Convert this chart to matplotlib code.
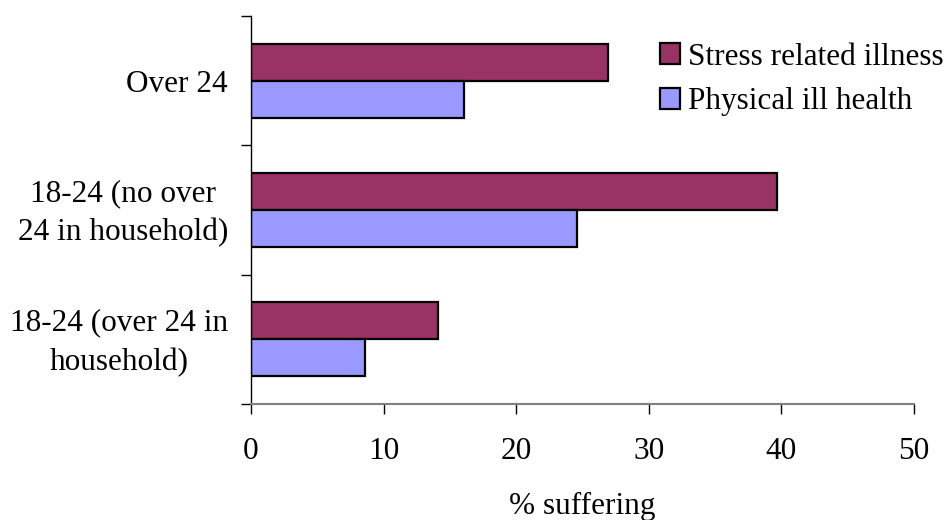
import matplotlib.pyplot as plt
import matplotlib.transforms as mtransforms
import numpy as np

# données
categories = ["18-24 (over 24 in\nhousehold)", "18-24 (no over\n24 in household)", "Over 24"]
stress = [14.1, 39.7, 26.9]
physique = [8.6, 24.6, 16.1]
noms = ["Stress related illness", "Physical ill health"]
xticks = [0, 10, 20, 30, 40, 50]

plt.rcParams['font.family'] = ['Liberation Serif', 'DejaVu Serif']
taille = 22.5

fig = plt.figure(figsize=(9.45, 5.2), dpi=100)
ax = fig.add_axes([0.2656, 0.2231, 0.9672 - 0.2656, 0.9692 - 0.2231])

y = np.arange(len(categories))
h = 0.285
ax.barh(y + h / 2, stress, height=h, color="#993366", edgecolor="black", linewidth=1.6, label=noms[0])
ax.barh(y - h / 2, physique, height=h, color="#9999FF", edgecolor="black", linewidth=1.6, label=noms[1])

ax.set_xlim(0, 50)
ax.set_ylim(-0.5, len(categories) - 0.5)
ax.set_xticks(xticks)
ax.set_xticklabels([str(v) for v in xticks], fontsize=taille)

# traits aux limites des catégories, étiquettes au centre
ax.set_yticks(np.arange(len(categories) + 1) - 0.5)
ax.set_yticklabels([])
ax.set_yticks(y, minor=True)
ax.set_yticklabels(categories, minor=True, fontsize=taille, multialignment="center", linespacing=1.45)
ax.tick_params(axis="y", which="minor", length=0, pad=16.5)
ax.tick_params(axis="y", which="major", length=7, width=1, direction="out")
ax.tick_params(axis="x", length=7, width=1, direction="out", pad=16.5)

# petit décalage vers le haut des étiquettes sur deux lignes
decalage = mtransforms.ScaledTranslation(0, 0.05, fig.dpi_scale_trans)
for lab in ax.get_yticklabels(minor=True):
    if "\n" in lab.get_text():
        lab.set_transform(lab.get_transform() + decalage)

ax.spines["top"].set_visible(False)
ax.spines["right"].set_visible(False)
ax.spines["bottom"].set_color("#808080")
ax.spines["bottom"].set_linewidth(1.5)
ax.spines["left"].set_color("black")
ax.spines["left"].set_linewidth(1)

ax.set_xlabel("% suffering", fontsize=taille, labelpad=19)

ax.legend(loc="upper left", bbox_to_anchor=(0.698, 0.918), bbox_transform=fig.transFigure,
          frameon=False, fontsize=taille, handlelength=0.65, handleheight=0.65,
          handletextpad=0.26, labelspacing=0.5, borderaxespad=0, borderpad=0)

plt.savefig("out.png", dpi=100)
